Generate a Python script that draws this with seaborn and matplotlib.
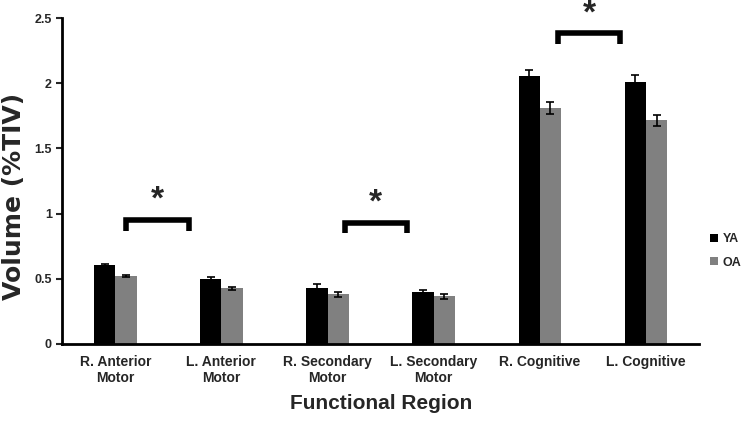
import matplotlib
matplotlib.use("Agg")
import matplotlib.pyplot as plt
import seaborn as sns
import pandas as pd
import numpy as np

regions = ["R. Anterior\nMotor", "L. Anterior\nMotor", "R. Secondary\nMotor",
           "L. Secondary\nMotor", "R. Cognitive", "L. Cognitive"]
groups = ["YA", "OA"]
ya_vals = [0.605, 0.50, 0.43, 0.40, 2.055, 2.01]
oa_vals = [0.52, 0.425, 0.38, 0.365, 1.81, 1.715]
ya_err = [0.01, 0.01, 0.03, 0.015, 0.05, 0.05]
oa_err = [0.01, 0.008, 0.02, 0.02, 0.045, 0.045]
# significance brackets: (x_start, x_end, top y, star y)
brackets = [(0.10, 0.69, 0.95, 1.10), (2.16, 2.75, 0.93, 1.08), (4.17, 4.76, 2.385, 2.53)]

sns.set_style("white")
plt.rcParams['font.family'] = ['Liberation Sans', 'DejaVu Sans']

df = pd.DataFrame({
    "Region": regions * 2,
    "Group": ["YA"] * len(regions) + ["OA"] * len(regions),
    "Volume": ya_vals + oa_vals,
})

fig = plt.figure(figsize=(7.5, 4.32), dpi=100)
ax = fig.add_axes([0.083, 0.204, 0.849, 0.754])
sns.barplot(data=df, x="Region", y="Volume", hue="Group", order=regions,
            hue_order=groups, palette={"YA": "#000000", "OA": "#808080"},
            width=0.4, errorbar=None, ax=ax, saturation=1, legend=True,
            linewidth=0, edgecolor="none")

errs = {"YA": ya_err, "OA": oa_err}
vals = {"YA": ya_vals, "OA": oa_vals}
for cont, g in zip(ax.containers, groups):
    xs = [p.get_x() + p.get_width() / 2 for p in cont.patches]
    ax.errorbar(xs, vals[g], yerr=errs[g], fmt="none", ecolor="black",
                elinewidth=1.2, capsize=3, capthick=1.2)

for x0, x1, yt, ys in brackets:
    ax.plot([x0, x0, x1, x1], [yt - 0.08, yt, yt, yt - 0.08], color="black",
            lw=4, solid_capstyle="butt", solid_joinstyle="miter", clip_on=False)
    ax.text((x0 + x1) / 2, ys, "*", ha="center", va="center", fontsize=24,
            fontweight="bold", clip_on=False)

ax.set_xlim(-0.5, 5.5)
ax.set_ylim(0, 2.5)
ax.set_yticks([0, 0.5, 1, 1.5, 2, 2.5])
ax.set_yticklabels(["0", "0.5", "1", "1.5", "2", "2.5"])
ax.tick_params(axis="y", direction="out", length=4, width=1.5, labelsize=9, left=True)
ax.tick_params(axis="x", length=0, labelsize=10, pad=8)
for lab in ax.get_xticklabels() + ax.get_yticklabels():
    lab.set_fontweight("bold")
for s in ["top", "right"]:
    ax.spines[s].set_visible(False)
for s in ["left", "bottom"]:
    ax.spines[s].set_linewidth(2)
    ax.spines[s].set_color("black")

ax.set_xlabel("Functional Region", fontsize=15, fontweight="bold", labelpad=6)
ax.set_ylabel("Volume (%TIV)", fontsize=18, fontweight="bold",
              family=["DejaVu Sans"])
ax.yaxis.set_label_coords(-0.057, 0.454)

leg = ax.legend(loc="center left", bbox_to_anchor=(1.0, 0.285), frameon=False,
                handlelength=0.6, handleheight=0.6, handletextpad=0.4,
                labelspacing=0.9, prop={"weight": "bold", "size": 9})

fig.savefig("out.png", dpi=100)
